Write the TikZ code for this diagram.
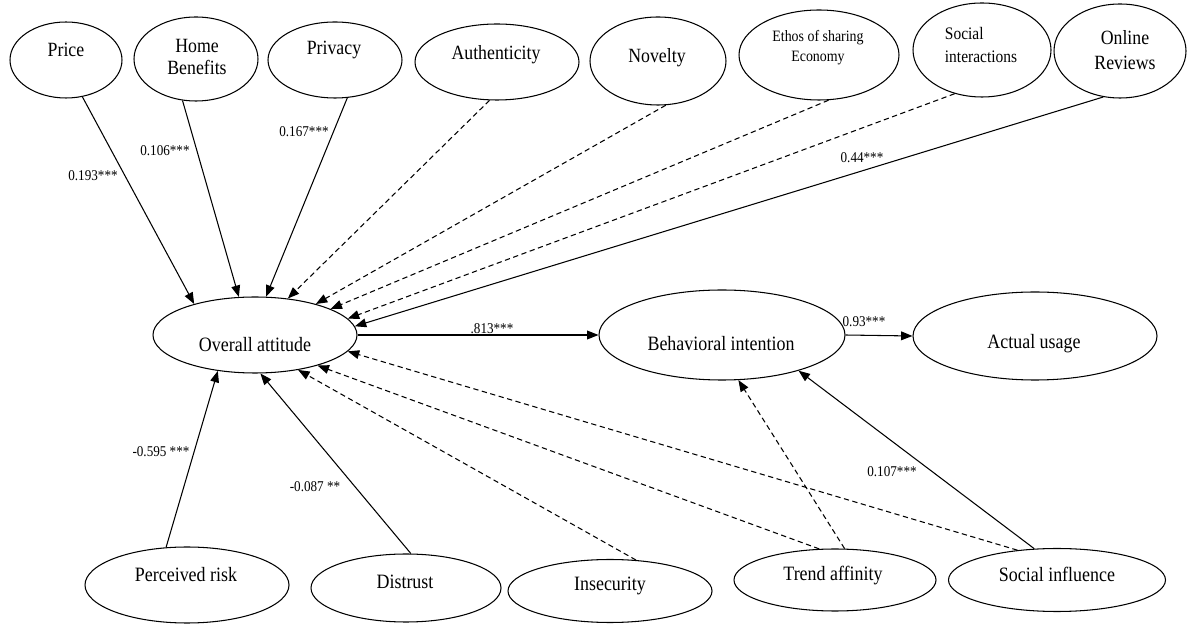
\documentclass[tikz,border=0pt]{standalone}
\usepackage{fontspec}
\setmainfont{Liberation Serif}[FakeStretch=0.88]
\usetikzlibrary{shapes.geometric,arrows.meta}
\begin{document}
\begin{tikzpicture}[x=0.02cm,y=-0.02cm,
  oval/.style 2 args={ellipse,draw,line width=0.6pt,minimum width=#1*0.02cm,minimum height=#2*0.02cm,inner sep=0pt},
  txt/.style={inner sep=0pt,align=center,font=\fontsize{11.6}{14}\selectfont},
  toptxt/.style={inner sep=0pt,align=center,font=\fontsize{11.5}{13.5}\selectfont},
  link/.style={line width=0.6pt,-{Triangle[length=6.5pt,width=5pt]}},
  dlink/.style={link,dash pattern=on 3pt off 2pt},
  coef/.style={inner sep=0pt,font=\fontsize{8.5}{10}\selectfont}
]
\useasboundingbox[fill=white] (0,0) rectangle (1187,641);

% top row
\node[oval={112}{76}] (price) at (66,60) {};
\node[oval={124}{84}] (home) at (196,59) {};
\node[oval={134}{76}] (privacy) at (335,60) {};
\node[oval={164}{76}] (auth) at (497,62) {};
\node[oval={136}{88}] (novelty) at (658,61) {};
\node[oval={160}{90}] (ethos) at (819,55) {};
\node[oval={138}{94}] (socint) at (982,50) {};
\node[oval={132}{94}] (online) at (1120,51) {};

\node[toptxt] (price-t) at (66,50) {Price};
\node[toptxt] (home-t) at (197,57) {Home\\[-1pt]Benefits};
\node[toptxt] (privacy-t) at (334,50) {Privacy};
\node[toptxt] (auth-t) at (496,55) {Authenticity};
\node[toptxt] (novelty-t) at (657,58) {Novelty};
\node[inner sep=0pt,align=center,font=\fontsize{9}{11.5}\selectfont] (ethos-t) at (818,48) {Ethos of sharing\\Economy};
\node[inner sep=0pt,align=left,font=\fontsize{10}{13.5}\selectfont] (socint-t) at (981,45) {Social\\interactions};
\node[toptxt] (online-t) at (1125,50) {Online\\[1pt]Reviews};

% middle row
\node[oval={204}{76}] (oa) at (255,335) {};
\node[oval={246}{90}] (bi) at (722,335) {};
\node[oval={244}{88}] (au) at (1035,336) {};
\node[txt] (oa-t) at (255,345) {Overall attitude};
\node[txt] (bi-t) at (721,344) {Behavioral intention};
\node[txt] (au-t) at (1034,344) {Actual usage};

% bottom row
\node[oval={204}{76}] (pr) at (187,585) {};
\node[oval={190}{68}] (distrust) at (406,588) {};
\node[oval={204}{63}] (insec) at (610,591) {};
\node[oval={202}{62}] (trend) at (835,580) {};
\node[oval={217}{63}] (si) at (1057,580) {};
\node[txt] (pr-t) at (186,575) {Perceived risk};
\node[txt] (distrust-t) at (405,582) {Distrust};
\node[txt] (insec-t) at (610,586) {Insecurity};
\node[txt] (trend-t) at (833,576) {Trend affinity};
\node[txt] (si-t) at (1057,574) {Social influence};

% connectors into overall attitude
\draw[link] (price.-66) -- (oa.153);
\draw[link] (home.-108) -- (oa.113);
\draw[link] (privacy.-72) -- (oa.74);
\draw[dlink] (auth.-101) -- (oa.48);
\draw[dlink] (novelty.-80) -- (oa.27);
\draw[dlink] (ethos.-78) -- (oa.19);
\draw[dlink] (socint.-122) -- (oa.10);
\draw[link] (online.-110) -- (oa.5);
\draw[link] (pr.119) -- (oa.-136);
\draw[link] (distrust.82) -- (oa.-82);
\draw[dlink] (insec.50) -- (oa.-39);
\draw[dlink] (trend.117) -- (oa.-26);
\draw[dlink] (si.143) -- (oa.-10);

% into behavioral intention / actual usage
\draw[link] (oa.east) -- (bi.west);
\draw[link] (bi.east) -- (au.west);
\draw[dlink] (trend.73) -- (bi.-70);
\draw[link] (si.126) -- (bi.-25);

% coefficients
\node[coef] (c-price) at (93,176) {0.193***};
\node[coef] (c-home) at (165,151) {0.106***};
\node[coef] (c-privacy) at (304,132) {0.167***};
\node[coef] (c-online) at (862,158) {0.44***};
\node[coef] (c-oabi) at (492,329) {.813***};
\node[coef] (c-biau) at (864,322) {0.93***};
\node[coef] (c-pr) at (161,452) {-0.595 ***};
\node[coef] (c-distrust) at (315,487) {-0.087 **};
\node[coef] (c-si) at (892,472) {0.107***};
\end{tikzpicture}
\end{document}
